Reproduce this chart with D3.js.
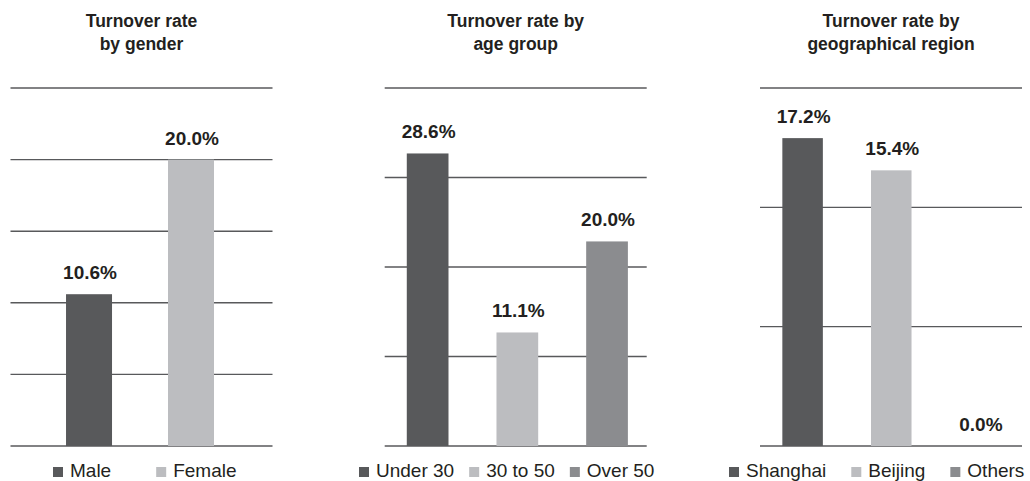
<!DOCTYPE html>
<html>
<head>
<meta charset="utf-8">
<script src="https://cdn.jsdelivr.net/npm/d3@7/dist/d3.min.js"></script>
<style>
  html, body { margin: 0; padding: 0; background: #ffffff; }
  svg { display: block; }
  text { font-family: "Liberation Sans", Arial, Helvetica, sans-serif; fill: #231f20; }
</style>
</head>
<body>
<svg id="chart" width="1030" height="481"></svg>
<script>
// ---- Data ----
const genderCategories = ["Male", "Female"];
const genderValues = [10.6, 20.0];

const ageCategories = ["Under 30", "30 to 50", "Over 50"];
const ageValues = [28.6, 11.1, 20.0];

const regionCategories = ["Shanghai", "Beijing", "Others"];
const regionValues = [17.2, 15.4, 0.0];

const titles = [
  ["Turnover rate", "by gender"],
  ["Turnover rate by", "age group"],
  ["Turnover rate by", "geographical region"]
];

// Axis maxima and number of gridline intervals for each panel
const axisMax = [25, 35, 20];
const gridIntervals = [5, 4, 3];

const palette = ["#58595b", "#bcbdc0", "#8b8c8f"];

// ---- Layout ----
const panels = [
  { cats: genderCategories, vals: genderValues, left: 10.5, right: 272.5,
    pi: 0.549, po: 0.559, align: 0.487, legendX: 53, legendGap: 45 },
  { cats: ageCategories, vals: ageValues, left: 384.7, right: 646.7,
    pi: 0.535, po: 0.228, align: 0.54, legendX: 359, legendGap: 15 },
  { cats: regionCategories, vals: regionValues, left: 760, right: 1022,
    pi: 0.543, po: 0.249, align: 0.506, legendX: 729, legendGap: 25 }
];

const plotTop = 88, plotBottom = 446;
const svg = d3.select("#chart");

panels.forEach((p, idx) => {
  const g = svg.append("g");
  const x = d3.scaleBand().domain(p.cats).range([p.left, p.right])
    .paddingInner(p.pi).paddingOuter(p.po).align(p.align);
  const y = d3.scaleLinear().domain([0, axisMax[idx]]).range([plotBottom, plotTop]);
  const gridVals = d3.range(gridIntervals[idx] + 1).map(i => axisMax[idx] * i / gridIntervals[idx]);

  // Title
  const cx = (p.left + p.right) / 2;
  const t = g.append("text").attr("text-anchor", "middle")
    .style("font-size", "17.5px").style("font-weight", "bold");
  titles[idx].forEach((line, i) => {
    t.append("tspan").attr("x", cx).attr("y", 27 + i * 23).text(line);
  });

  // Gridlines
  g.append("g").selectAll("line").data(gridVals).join("line")
    .attr("x1", p.left).attr("x2", p.right)
    .attr("y1", d => y(d)).attr("y2", d => y(d))
    .attr("stroke", "#58595b").attr("stroke-width", 1.4);

  // Bars
  g.append("g").selectAll("rect").data(p.vals).join("rect")
    .attr("x", (d, i) => x(p.cats[i]))
    .attr("width", x.bandwidth())
    .attr("y", d => y(d))
    .attr("height", d => plotBottom - y(d))
    .attr("fill", (d, i) => palette[i]);

  // Value labels
  g.append("g").selectAll("text").data(p.vals).join("text")
    .attr("x", (d, i) => x(p.cats[i]) + x.bandwidth() / 2 + 1)
    .attr("y", d => y(d) - 15)
    .attr("text-anchor", "middle")
    .style("font-size", "19px").style("font-weight", "bold")
    .text(d => d.toFixed(1) + "%");

  // Legend
  let lx = p.legendX;
  p.cats.forEach((c, i) => {
    g.append("rect").attr("x", lx).attr("y", 467).attr("width", 10).attr("height", 10)
      .attr("fill", palette[i]);
    const tx = g.append("text").attr("x", lx + 17).attr("y", 476.5)
      .style("font-size", "19px").text(c);
    lx = lx + 17 + tx.node().getComputedTextLength() + p.legendGap;
  });
});
</script>
</body>
</html>
